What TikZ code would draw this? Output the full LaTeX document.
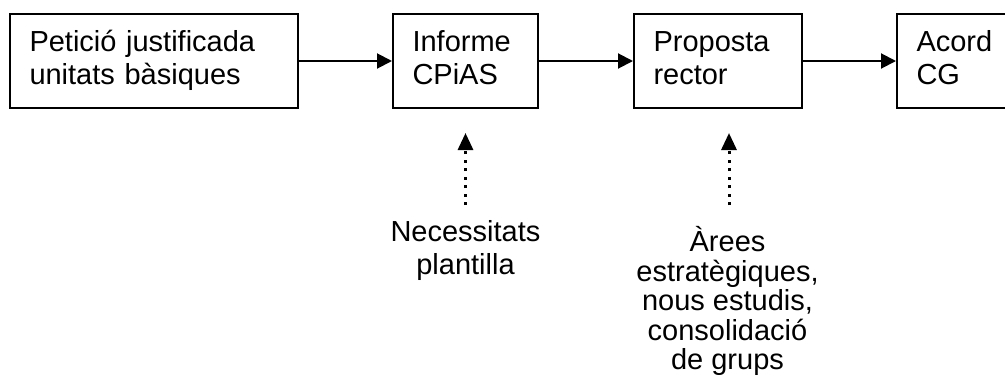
\documentclass[tikz,border=0pt]{standalone}
\usepackage{fontspec}
\setmainfont{Liberation Sans}
\usetikzlibrary{arrows.meta}
\newcommand\bstrut{\rule[-9.5pt]{0pt}{32.5pt}}
\newcommand\nstrut{\rule[-10pt]{0pt}{33pt}}
\newcommand\lstrut{\rule[-6.5pt]{0pt}{29.5pt}}
\newcommand\tightlines{\lineskiplimit=-100pt\relax}
\begin{document}
\begin{tikzpicture}[x=1pt,y=-1pt,
  box/.style={draw, line width=2pt, minimum height=94pt, inner xsep=19.5pt, inner ysep=0pt,
    align=left, font=\fontsize{29}{32.5}\selectfont\tightlines},
  lbl/.style={align=center, inner sep=0pt, anchor=north},
  flow/.style={line width=2pt, -{Triangle[length=15pt,width=15pt]}},
  hint/.style={line width=3pt, dash pattern=on 3pt off 5.5pt, -{Triangle[length=17pt,width=15pt]}}]
\useasboundingbox (0,0) rectangle (1005,381);
\clip (0,0) rectangle (1005,381);
\node[box, text width=249pt] (pet) at (154,61) {\bstrut Petició justificada\\unitats bàsiques\bstrut};
\node[box, text width=106pt] (inf) at (465.5,61) {\bstrut Informe\\CPiAS\bstrut};
\node[box, text width=129pt] (prop) at (718,61) {\bstrut Proposta\\rector\bstrut};
\node[box, text width=111pt] (acord) at (972,61) {\bstrut Acord\\CG\bstrut};
\draw[flow] (pet) -- (inf);
\draw[flow] (inf) -- (prop);
\draw[flow] (prop) -- (acord);
\node[lbl, font=\fontsize{29}{33}\selectfont\tightlines] (nec) at (465.5,218.7)
  {\nstrut Necessitats\\plantilla\nstrut};
\node[lbl, font=\fontsize{29}{29.5}\selectfont\tightlines] (are) at (727.5,228.7)
  {\lstrut\smash{À}rees\\estratègiques,\\nous estudis,\\consolidació\\de grups\lstrut};
\coordinate (necTip) at (465.5,133);
\coordinate (areTip) at (729,133);
\draw[hint, shorten <=13.7pt] (nec.north) -- (necTip);
\draw[hint, shorten <=23.7pt] (are.north -| areTip) -- (areTip);
\end{tikzpicture}
\end{document}
